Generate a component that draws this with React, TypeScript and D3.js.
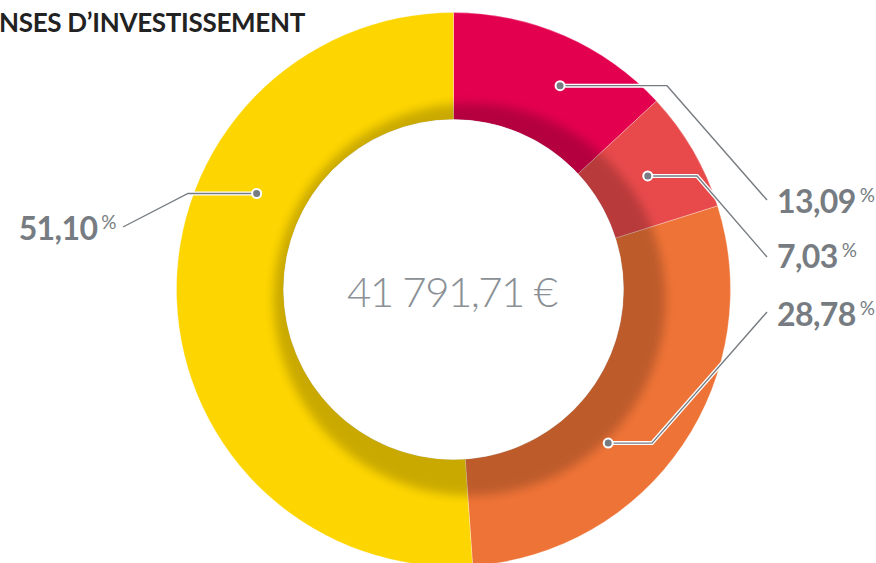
import React from "react";
import * as d3 from "d3";

// chart data
const categories = ["A", "B", "C", "D"];
const shares = [13.09, 7.03, 28.78, 51.1];
const shareLabels = ["13,09", "7,03", "28,78", "51,10"];
const colors = ["#E3004F", "#E84A4B", "#EE7337", "#FDD500"];
const total = "41 791,71 €";
const title = "DÉPENSES D’INVESTISSEMENT";

// label layout (angle of the dot in degrees, dot radius, elbow x, line end, label anchor)
const dotAngles = [27.6, 59.7, 134.8, 296];
const dotRadii = [230, 225, 218, 219];
const elbowX = [667, 697, 652, 188];
const lineEnds = [[767, 200], [767, 257], [767, 312], [123, 227]];
const labelPos = [[777, 213], [777, 268], [777, 326], [116, 240]];

const W = 876;
const H = 563;
const cx = 453.5;
const cy = 289.5;
const outerR = 277;
const innerR = 170;
const grey = "#767C81";

export default function App() {
  const pie = d3
    .pie<number>()
    .sort(null)
    .value(d => d);
  const arcs = pie(shares);
  const arc = d3
    .arc<d3.PieArcDatum<number>>()
    .innerRadius(innerR)
    .outerRadius(outerR);

  const polar = (deg: number, r: number) => {
    const a = (deg * Math.PI) / 180;
    return [cx + r * Math.sin(a), cy - r * Math.cos(a)];
  };

  const line = d3.line();

  return (
    <svg
      width={W}
      height={H}
      style={{ position: "fixed", left: 0, top: 0, background: "#fff" }}
      fontFamily="Lato, 'Noto Sans', sans-serif"
    >
      <defs>
        <filter id="blur" x="-20%" y="-20%" width="140%" height="140%">
          <feGaussianBlur stdDeviation="5" />
        </filter>
      </defs>
      <text
        x={305}
        y={32}
        textAnchor="end"
        fontSize={26}
        fontWeight={700}
        fill="#222"
        letterSpacing={-0.3}
      >
        {title}
      </text>

      <g transform={`translate(${cx},${cy})`}>
        {arcs.map((a, i) => (
          <path
            key={categories[i]}
            d={arc(a) || ""}
            fill={colors[i]}
            stroke="#fff"
            strokeOpacity={0.4}
            strokeWidth={0.7}
          />
        ))}
      </g>
      {/* inner shadow cast by the hole */}
      <circle cx={cx + 16} cy={cy + 10} r={196} fill="#000" opacity={0.2} filter="url(#blur)" />
      <circle cx={cx} cy={cy} r={innerR} fill="#fff" />

      <text
        x={347}
        y={307}
        fontSize={42}
        fontWeight={300}
        fill="#8A9095"
        textLength={211}
        lengthAdjust="spacing"
      >
        {total}
      </text>

      {shares.map((s, i) => {
        const dot = polar(dotAngles[i], dotRadii[i]);
        const pts: [number, number][] = [
          [dot[0], dot[1]],
          [elbowX[i], dot[1]],
          [lineEnds[i][0], lineEnds[i][1]],
        ];
        const d = line(pts) || "";
        const left = lineEnds[i][0] < cx;
        return (
          <g key={categories[i]}>
            <path d={d} fill="none" stroke="#fff" strokeWidth={4} />
            <path d={d} fill="none" stroke={grey} strokeWidth={1.4} />
            <circle cx={dot[0]} cy={dot[1]} r={4.5} fill={grey} stroke="#fff" strokeWidth={2} />
            <text
              x={labelPos[i][0]}
              y={labelPos[i][1]}
              textAnchor={left ? "end" : "start"}
              fontSize={32}
              fontWeight={700}
              fill={grey}
              letterSpacing={-0.6}
            >
              {shareLabels[i]}
              <tspan fontSize={19} fontWeight={400} dx={4} dy={-11}>%</tspan>
            </text>
          </g>
        );
      })}
    </svg>
  );
}
